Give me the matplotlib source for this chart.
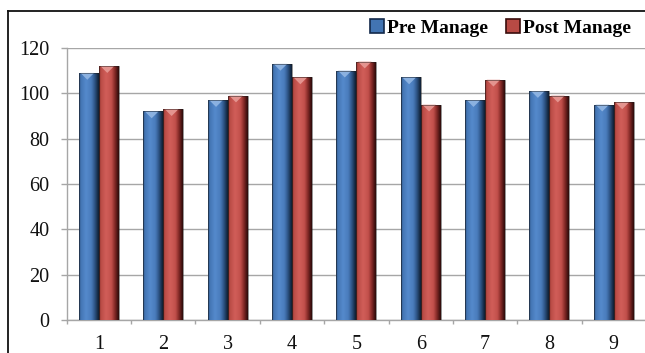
import numpy as np
import matplotlib
matplotlib.use("Agg")
import matplotlib.pyplot as plt
from matplotlib.colors import LinearSegmentedColormap
from matplotlib.patches import Polygon, Rectangle
from matplotlib.lines import Line2D

categories = ["1", "2", "3", "4", "5", "6", "7", "8", "9"]
pre_manage = [109, 92, 97, 113, 110, 107, 97, 101, 95]
post_manage = [112, 93, 99, 107, 114, 95, 106, 99, 96]
series_names = ["Pre Manage", "Post Manage"]
y_ticks = [0, 20, 40, 60, 80, 100, 120]

plt.rcParams["font.family"] = ["Liberation Serif", "DejaVu Serif"]

W, H = 645, 353
fig = plt.figure(figsize=(W / 100, H / 100), dpi=100)
ax = fig.add_axes([66.7 / W, 1 - 320 / H, (646 - 66.7) / W, (320 - 48) / H])

# horizontal shading across each bar (lit face, dark right edge)
blue_cmap = LinearSegmentedColormap.from_list(
    "blue3d", [(0.0, "#24436b"), (0.07, "#4274b2"), (0.35, "#558acc"),
               (0.62, "#4a7cbc"), (0.8, "#2d5486"), (1.0, "#0e1d30")])
red_cmap = LinearSegmentedColormap.from_list(
    "red3d", [(0.0, "#6e2220"), (0.07, "#b84a44"), (0.35, "#d15e59"),
              (0.62, "#c3514c"), (0.8, "#852a27"), (1.0, "#2a0a09")])
bevel_colors = ["#8fb4e2", "#e69893"]

x = np.arange(len(categories))
width = 0.31
ramp = np.linspace(0, 1, 64).reshape(1, -1)

for values, offset, cmap, bevel in [
    (pre_manage, -width / 2, blue_cmap, bevel_colors[0]),
    (post_manage, width / 2, red_cmap, bevel_colors[1]),
]:
    bars = ax.bar(x + offset, values, width, color="none", edgecolor="none", zorder=3)
    for rect in bars:
        x0, w, h = rect.get_x(), rect.get_width(), rect.get_height()
        im = ax.imshow(ramp, cmap=cmap, extent=(x0, x0 + w, 0, h),
                       aspect="auto", interpolation="bicubic", zorder=3)
        im.set_clip_path(rect)
        depth = 3.0
        ax.add_patch(Polygon([(x0 + 0.08 * w, h), (x0 + 0.76 * w, h),
                              (x0 + 0.42 * w, h - depth)],
                             closed=True, facecolor=bevel, edgecolor="none",
                             alpha=0.95, zorder=4))
        ax.add_patch(Rectangle((x0, 0), w, h, facecolor="none",
                               edgecolor="#1a1a1a", linewidth=0.6, alpha=0.55,
                               zorder=5))

ax.set_xlim(-0.5, len(categories) - 0.5)
ax.set_ylim(0, 120)
ax.set_yticks(y_ticks)
ax.set_yticklabels([str(v) for v in y_ticks])

# boundary ticks between groups, labels centred on groups
ax.set_xticks(np.arange(len(categories) + 1) - 0.5)
ax.set_xticklabels([])
ax.set_xticks(x, minor=True)
ax.set_xticklabels(categories, minor=True)

ax.yaxis.grid(True, color="#a6a6a6", linewidth=1.0, zorder=0)
ax.set_axisbelow(True)
for side in ["top", "right"]:
    ax.spines[side].set_visible(False)
for side in ["left", "bottom"]:
    ax.spines[side].set_color("#a6a6a6")
    ax.spines[side].set_linewidth(1.0)

ax.tick_params(axis="y", which="major", length=4.5, width=1.0, color="#a6a6a6",
               labelsize=14.5, pad=8.0, labelcolor="#111111")
ax.tick_params(axis="x", which="major", length=3, width=1.0, color="#a6a6a6",
               direction="out")
ax.tick_params(axis="x", which="minor", length=0, labelsize=14.5, pad=11,
               labelcolor="#111111")

handles = [Rectangle((0, 0), 1, 1, facecolor="#4274b2", edgecolor="#13294a", linewidth=1.2),
           Rectangle((0, 0), 1, 1, facecolor="#b84a44", edgecolor="#3a0d0c", linewidth=1.2)]
fig.legend(handles, series_names, loc="center right",
           bbox_to_anchor=(641 / W, 1 - 28 / H), ncol=2, frameon=False,
           prop={"weight": "bold", "size": 14}, handlelength=0.75,
           handleheight=0.75, handletextpad=0.15, columnspacing=0.9,
           borderpad=0.0)

# outer frame (top and left edges)
fig.add_artist(Line2D([8 / W, 8 / W], [0, 1 - 11 / H], color="#111111",
                      linewidth=1.3, transform=fig.transFigure))
fig.add_artist(Line2D([8 / W, 1], [1 - 11 / H, 1 - 11 / H], color="#111111",
                      linewidth=1.3, transform=fig.transFigure))

fig.savefig("out.png", dpi=100)
